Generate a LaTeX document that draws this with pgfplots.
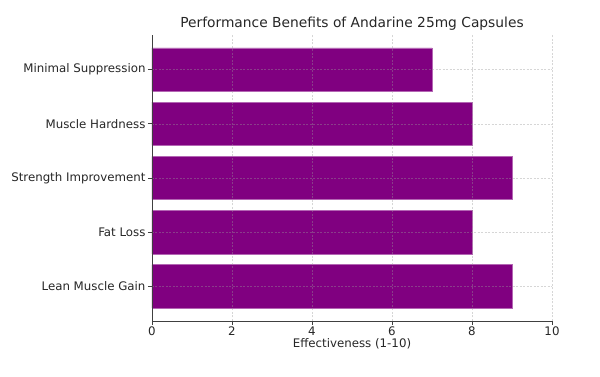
\documentclass[border=0pt]{standalone}
\usepackage{pgfplots}
\pgfplotsset{compat=1.18}
\usepackage{fontspec}
\setmainfont{DejaVu Sans}
\definecolor{barpurple}{HTML}{800080}
\definecolor{txt}{HTML}{262626}
\begin{document}
\begin{tikzpicture}[x=1pt,y=1pt]
\path[use as bounding box] (0,0) rectangle (600,377);
\begin{axis}[
  at={(152pt,56pt)}, anchor=south west,
  scale only axis, width=400pt, height=286pt,
  xbar, bar width=0.8,
  xmin=0, xmax=10, ymin=-0.64, ymax=4.64,
  ytick={0,1,2,3,4},
  yticklabels={Lean Muscle Gain,Fat Loss,Strength Improvement,Muscle Hardness,Minimal Suppression},
  xtick={0,2,4,6,8,10},
  axis lines*=left,
  axis line style={draw=black!75, line width=0.9pt},
  tick style={draw=black!75, line width=0.9pt},
  tick align=outside, major tick length=4pt,
  xmajorgrids, ymajorgrids,
  grid style={dash pattern=on 2pt off 1.5pt, draw=black!40, draw opacity=0.4, line width=0.5pt},
  axis on top,
  ticklabel style={font=\fontsize{11.8}{13}\selectfont, text=txt},
  x tick label style={yshift=2pt},
  /pgf/number format/assume math mode=true,
  xlabel={Effectiveness (1-10)},
  xlabel style={font=\fontsize{11.8}{13}\selectfont, text=txt, yshift=4pt},
  title={Performance Benefits of Andarine 25mg Capsules},
  title style={font=\fontsize{13.8}{16}\selectfont, text=txt, yshift=-5pt},
  y tick label style={xshift=1pt},
]
\addplot[fill=barpurple, draw=barpurple!60!white, line width=0.5pt] coordinates {(9,0) (8,1) (9,2) (8,3) (7,4)};
\end{axis}
\end{tikzpicture}
\end{document}
